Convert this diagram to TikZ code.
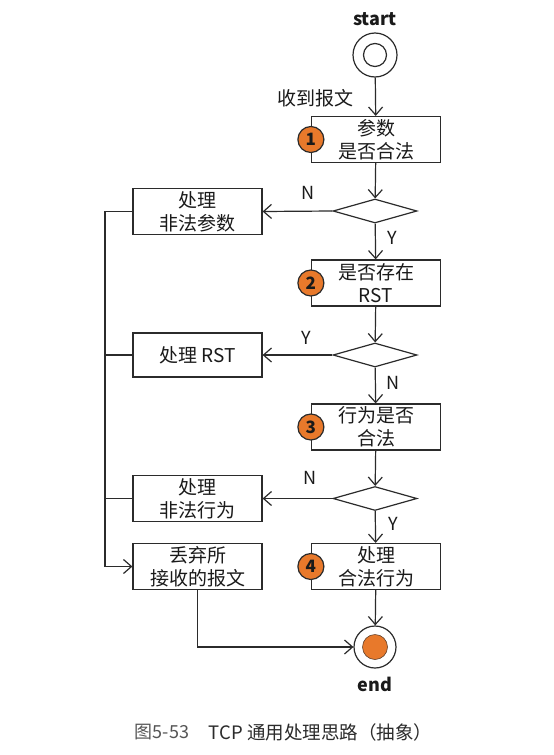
\documentclass[tikz,border=0pt]{standalone}
\usepackage{fontspec}
\setmainfont{Noto Sans CJK SC}
\usetikzlibrary{arrows.meta,shapes.geometric}
\definecolor{orng}{HTML}{E8792B}
\definecolor{ln}{HTML}{2B2B2B}
\definecolor{txt}{HTML}{1A1A1A}
\definecolor{capgray}{HTML}{555555}
\tikzset{
  box/.style={draw=ln, fill=white, minimum width=129pt, minimum height=46pt, align=center, inner sep=0pt, text=txt, font=\fontsize{19}{23}\selectfont},
  dec/.style={draw=ln, diamond, minimum width=84pt, minimum height=24pt, inner sep=0pt},
  badge/.style={circle, draw=ln, fill=orng, minimum size=26pt, inner sep=0pt, text=txt, font=\fontsize{17}{17}\selectfont\bfseries},
  lbl/.style={text=txt, font=\fontsize{18}{18}\selectfont},
  arr/.style={draw=ln, -{Straight Barb[length=8pt,width=14pt]}},
  conn/.style={draw=ln},
}
\begin{document}
\begin{tikzpicture}[x=1pt,y=-1pt,line width=1.2pt]
\useasboundingbox[fill=white] (0,0) rectangle (554,755);
% start / end
\node[lbl, font=\fontsize{18}{18}\selectfont\bfseries] (st) at (375,19) {start};
\node[circle, draw=ln, minimum size=44pt, inner sep=0pt] (s) at (375,55) {};
\node[circle, draw=ln, minimum size=23pt, inner sep=0pt] (si) at (375,55) {};
\node[circle, draw=ln, minimum size=42pt, inner sep=0pt] (e) at (375,647) {};
\node[circle, draw=ln!70!orng, line width=0.6pt, fill=orng, minimum size=25pt, inner sep=0pt] (ei) at (375,647) {};
\node[lbl, font=\fontsize{18}{18}\selectfont\bfseries] (en) at (375,684) {end};
\node[lbl, font=\fontsize{19}{19}\selectfont] (rcv) at (315,98) {收到报文};
% main column
\node[box] (b1) at (376,139.5) {参数\\是否合法};
\node[dec] (d1) at (375,211) {};
\node[box] (b2) at (376,283) {是否存在\\RST};
\node[dec] (d2) at (375,355) {};
\node[box] (b3) at (376,427) {行为是否\\合法};
\node[dec] (d3) at (375,498.5) {};
\node[box] (b4) at (376,566.5) {处理\\合法行为};
% badges
\node[badge] (n1) at (b1.west) {1};
\node[badge] (n2) at (b2.west) {2};
\node[badge] (n3) at (b3.west) {3};
\node[badge] (n4) at (b4.west) {4};
% left column
\node[box] (p1) at (197.5,211.5) {处理\\非法参数};
\node[box, minimum height=44pt] (p2) at (197.5,355) {处理 RST};
\node[box] (p3) at (197.5,498.5) {处理\\非法行为};
\node[box] (dr) at (197.5,566.5) {丢弃所\\接收的报文};
\coordinate (bus) at (105,211);
% main flow
\draw[arr] (s) -- (b1);
\draw[arr] (b1) -- (d1);
\draw[arr] (d1) -- (b2);
\draw[arr] (b2) -- (d2);
\draw[arr] (d2) -- (b3);
\draw[arr] (b3) -- (d3);
\draw[arr] (d3) -- (b4);
\draw[arr] (b4) -- (e);
% branches
\draw[arr] (d1.west) -- (p1.east);
\draw[arr] (d2.west) -- (p2.east);
\draw[arr] (d3.west) -- (p3.east);
\draw[arr] (p1.west) -- (p1.west -| bus) |- (dr.west);
\draw[conn] (p2.west) -- (p2.west -| bus);
\draw[conn] (p3.west) -- (p3.west -| bus);
\draw[arr] (dr.south) |- (e.west);
% labels
\node[lbl] (l1) at (308,193) {N};
\node[lbl] (l2) at (392,238) {Y};
\node[lbl] (l3) at (306,338) {Y};
\node[lbl] (l4) at (393,383) {N};
\node[lbl] (l5) at (310,478) {N};
\node[lbl] (l6) at (393,524) {Y};
% caption
\node[anchor=west, text=capgray, font=\fontsize{18}{18}\selectfont] (cap1) at (131,732) {图5-53};
\node[anchor=west, text=ln, font=\fontsize{18.5}{18.5}\selectfont] (cap2) at (205,732) {TCP 通用处理思路（抽象）};
\end{tikzpicture}
\end{document}
